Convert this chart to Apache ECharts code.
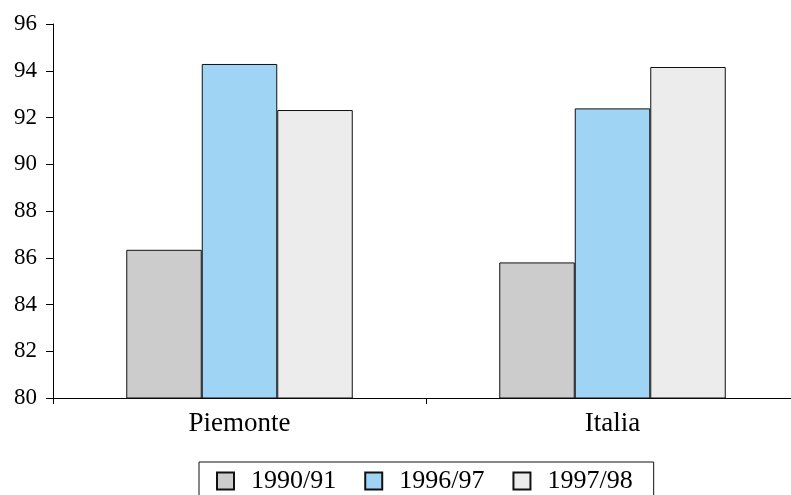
<!DOCTYPE html>
<html>
<head>
<meta charset="utf-8">
<script src="https://cdn.jsdelivr.net/npm/echarts@6/dist/echarts.min.js"></script>
<style>
  html, body { margin: 0; padding: 0; background: #fff; }
  #chart { width: 791px; height: 495px; }
</style>
</head>
<body>
<div id="chart"></div>
<script>
// Categories and series values
var regions = ['Piemonte', 'Italia'];
var seriesNames = ['1990/91', '1996/97', '1997/98'];
var values1990 = [86.34, 85.80];
var values1996 = [94.29, 92.39];
var values1997 = [92.32, 94.16];
var seriesColors = ['#cccccc', '#a0d4f5', '#ececec'];

var FONT = '"Liberation Serif", serif';
var chart = echarts.init(document.getElementById('chart'), null, { renderer: 'canvas' });

var dataSets = [values1990, values1996, values1997];
var series = seriesNames.map(function (name, i) {
  return {
    name: name,
    type: 'bar',
    data: dataSets[i],
    barWidth: 75.5,
    barGap: '0%',
    itemStyle: { color: seriesColors[i], borderColor: '#111', borderWidth: 1 },
    emphasis: { disabled: true }
  };
});

chart.setOption({
  animation: false,
  backgroundColor: '#ffffff',
  grid: { left: 53, top: 24, width: 746, height: 374, containLabel: false, outerBoundsMode: 'none' },
  legend: {
    data: seriesNames,
    left: 199,
    top: 462,
    orient: 'horizontal',
    itemWidth: 17,
    itemHeight: 17,
    itemGap: 28,
    icon: 'rect',
    borderColor: '#111',
    borderWidth: 1,
    borderRadius: 0,
    padding: [6, 21, 10, 17],
    textStyle: { fontFamily: FONT, fontSize: 26, color: '#000', padding: [0, 0, 0, 12] }
  },
  xAxis: {
    type: 'category',
    data: regions,
    axisLine: { lineStyle: { color: '#000', width: 1 } },
    axisTick: { show: true, length: 6, alignWithLabel: false, lineStyle: { color: '#000' } },
    axisLabel: { fontFamily: FONT, fontSize: 27, color: '#000', margin: 12 },
    splitLine: { show: false }
  },
  yAxis: {
    type: 'value',
    min: 80,
    max: 96,
    interval: 2,
    axisLine: { show: true, lineStyle: { color: '#000', width: 1 } },
    axisTick: { show: true, length: 7, lineStyle: { color: '#000' } },
    axisLabel: { fontFamily: FONT, fontSize: 23, color: '#000', margin: 16 },
    splitLine: { show: false }
  },
  series: series
});
</script>
</body>
</html>
